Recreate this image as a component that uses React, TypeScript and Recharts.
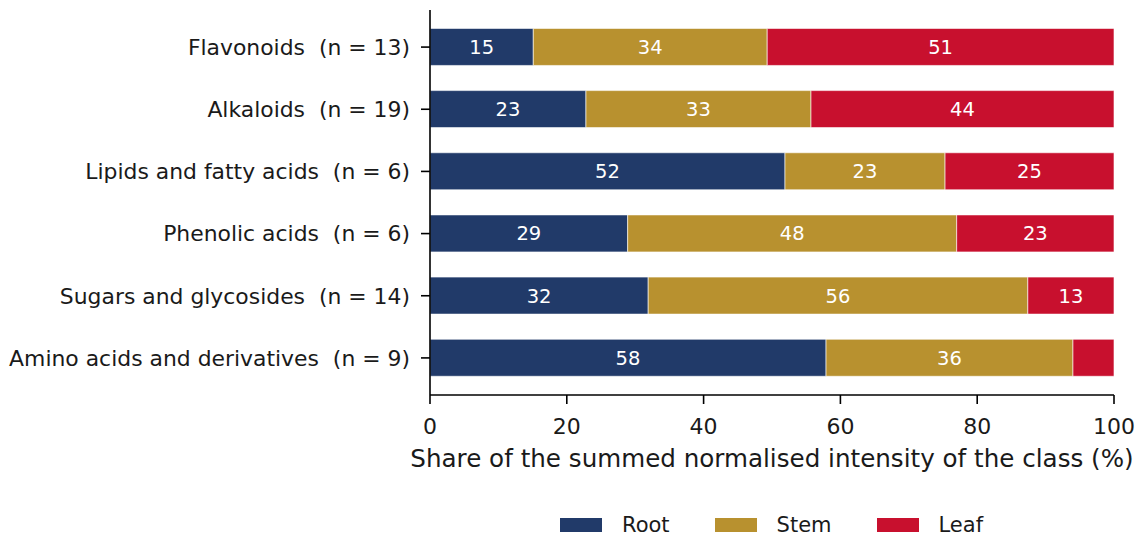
import React from 'react';
import { BarChart, Bar, XAxis, YAxis, LabelList, Legend } from 'recharts';

const categories = [
  'Flavonoids  (n = 13)',
  'Alkaloids  (n = 19)',
  'Lipids and fatty acids  (n = 6)',
  'Phenolic acids  (n = 6)',
  'Sugars and glycosides  (n = 14)',
  'Amino acids and derivatives  (n = 9)',
];
const rootValues = [15.1, 22.8, 51.9, 28.9, 31.9, 57.9];
const stemValues = [34.2, 32.9, 23.4, 48.1, 55.5, 36.1];
const leafValues = [50.7, 44.3, 24.7, 23.0, 12.6, 6.0];
const xTicks = [0, 20, 40, 60, 80, 100];

const seriesInfo = [
  { key: 'root', name: 'Root', color: '#213a69' },
  { key: 'stem', name: 'Stem', color: '#b8912f' },
  { key: 'leaf', name: 'Leaf', color: '#c8102e' },
];

const data = categories.map((c, i) => ({
  name: c,
  root: rootValues[i],
  stem: stemValues[i],
  leaf: leafValues[i],
}));

const FONT = '"DejaVu Sans", sans-serif';

const YTick = (props: any) => {
  const { x, y, payload } = props;
  return (
    <text
      x={x}
      y={y}
      dy="0.355em"
      textAnchor="end"
      fontFamily={FONT}
      fontSize={21.9}
      fill="#1a1a1a"
      style={{ whiteSpace: 'pre' }}
      xmlSpace="preserve"
    >
      {payload.value}
    </text>
  );
};

const labelFormatter = (v: any) => (Number(v) >= 10 ? String(Math.round(Number(v))) : '');

const LegendContent = () => (
  <div
    style={{
      display: 'flex',
      alignItems: 'center',
      fontFamily: FONT,
      fontSize: 21,
      color: '#1a1a1a',
      paddingLeft: 559,
      height: 34,
    }}
  >
    {seriesInfo.map((s, i) => (
      <div key={s.key} style={{ display: 'flex', alignItems: 'center', marginRight: i < 2 ? 44 : 0 }}>
        <div style={{ width: 44, height: 16, background: s.color, marginRight: 19, boxSizing: 'border-box', border: '0.5px solid #fff' }} />
        <span>{s.name}</span>
      </div>
    ))}
  </div>
);

export default function App() {
  return (
    <div style={{ position: 'absolute', left: 0, top: 0, width: 1145, height: 543, background: '#fff' }}>
      <BarChart
        width={1145}
        height={543}
        data={data}
        layout="vertical"
        margin={{ top: 10, right: 31, bottom: 88, left: 0 }}
        barCategoryGap="20%"
      >
        <XAxis
          type="number"
          domain={[0, 100]}
          ticks={xTicks}
          tickSize={9}
          tickMargin={14}
          height={60}
          axisLine={{ stroke: '#000', strokeWidth: 1.6 }}
          tickLine={{ stroke: '#000', strokeWidth: 1.6 }}
          tick={{ fontFamily: FONT, fontSize: 22, fill: '#1a1a1a' }}
          label={{
            value: 'Share of the summed normalised intensity of the class (%)',
            position: 'bottom',
            offset: -5,
            fontFamily: FONT,
            fontSize: 24.6,
            fill: '#1a1a1a',
          }}
        />
        <YAxis
          type="category"
          dataKey="name"
          width={430}
          tickSize={9}
          tickMargin={11}
          padding={{ top: 6, bottom: 6 }}
          axisLine={{ stroke: '#000', strokeWidth: 1.6 }}
          tickLine={{ stroke: '#000', strokeWidth: 1.6 }}
          tick={<YTick />}
          interval={0}
        />
        <Legend
          verticalAlign="middle"
          align="center"
          layout="horizontal"
          wrapperStyle={{ top: 508, left: 0, width: 1145 }}
          content={<LegendContent />}
        />
        {seriesInfo.map((s) => (
          <Bar
            key={s.key}
            dataKey={s.key}
            name={s.name}
            stackId="a"
            fill={s.color}
            stroke="#ffffff"
            strokeWidth={0.6}
            isAnimationActive={false}
          >
            <LabelList
              dataKey={s.key}
              position="center"
              formatter={labelFormatter}
              fill="#ffffff"
              fontFamily={FONT}
              fontSize={19.5}
            />
          </Bar>
        ))}
      </BarChart>
    </div>
  );
}
